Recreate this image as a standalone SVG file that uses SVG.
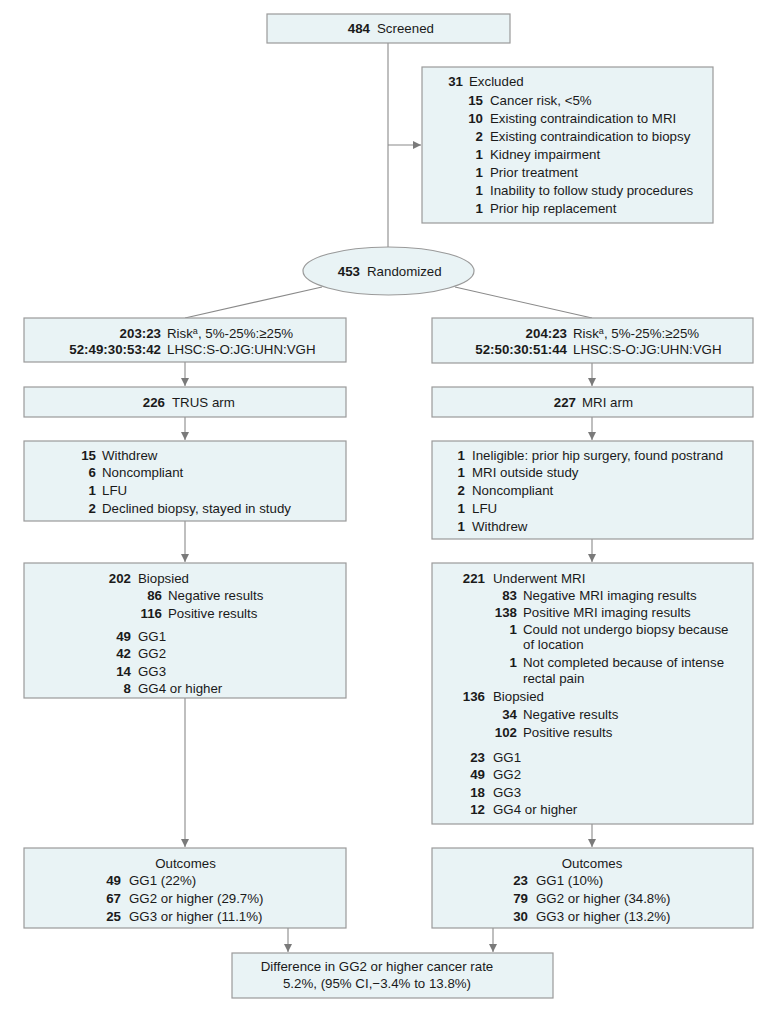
<svg xmlns="http://www.w3.org/2000/svg" width="780" height="1011" viewBox="0 0 780 1011">
<defs>
<style>
.box{fill:#e9f3f5;stroke:#9a9a9a;stroke-width:1.2}
.ln{fill:none;stroke:#8a8a8a;stroke-width:1.1}
text{font-family:"Liberation Sans",Arial,sans-serif;font-size:13.3px;fill:#1a1a1a}
.b{font-weight:bold}
.e{text-anchor:end}
.m{text-anchor:middle}
.sup{font-size:9px}
</style>
<marker id="ah" viewBox="0 0 10 10" refX="10" refY="5" markerWidth="8" markerHeight="8" markerUnits="userSpaceOnUse" orient="auto">
<path d="M0,0 L10,5 L0,10 z" fill="#7a7a7a"/>
</marker>
</defs>
<rect width="780" height="1011" fill="#ffffff"/>
<g id="connectors">
<line class="ln" x1="388" y1="43" x2="388" y2="247"/>
<line class="ln" x1="388" y1="145" x2="421" y2="145" marker-end="url(#ah)"/>
<line class="ln" x1="322" y1="287" x2="185" y2="318"/>
<line class="ln" x1="455" y1="287" x2="592" y2="318"/>
<line class="ln" x1="185" y1="362" x2="185" y2="386" marker-end="url(#ah)"/>
<line class="ln" x1="592" y1="363" x2="592" y2="386" marker-end="url(#ah)"/>
<line class="ln" x1="185" y1="417" x2="185" y2="440" marker-end="url(#ah)"/>
<line class="ln" x1="592" y1="417" x2="592" y2="440" marker-end="url(#ah)"/>
<line class="ln" x1="185" y1="521" x2="185" y2="562" marker-end="url(#ah)"/>
<line class="ln" x1="592" y1="539" x2="592" y2="562" marker-end="url(#ah)"/>
<line class="ln" x1="185" y1="698" x2="185" y2="847" marker-end="url(#ah)"/>
<line class="ln" x1="592" y1="824" x2="592" y2="847" marker-end="url(#ah)"/>
<line class="ln" x1="288" y1="928" x2="288" y2="952" marker-end="url(#ah)"/>
<line class="ln" x1="493" y1="928" x2="493" y2="952" marker-end="url(#ah)"/>
</g>
<g id="screened">
<rect class="box" x="267" y="14" width="243" height="29"/>
<text x="370" y="33" class="b e">484</text><text x="377" y="33">Screened</text>
</g>
<g id="excluded">
<rect class="box" x="422" y="67" width="291" height="156"/>
<text x="463" y="86" class="b e">31</text><text x="469" y="86">Excluded</text>
<text x="483" y="104.5" class="b e">15</text><text x="490" y="104.5">Cancer risk, &lt;5%</text>
<text x="483" y="123" class="b e">10</text><text x="490" y="123">Existing contraindication to MRI</text>
<text x="483" y="141" class="b e">2</text><text x="490" y="141">Existing contraindication to biopsy</text>
<text x="483" y="159" class="b e">1</text><text x="490" y="159">Kidney impairment</text>
<text x="483" y="176.5" class="b e">1</text><text x="490" y="176.5">Prior treatment</text>
<text x="483" y="194.5" class="b e">1</text><text x="490" y="194.5">Inability to follow study procedures</text>
<text x="483" y="212.5" class="b e">1</text><text x="490" y="212.5">Prior hip replacement</text>
</g>
<g id="randomized">
<ellipse class="box" cx="388.5" cy="271" rx="85.5" ry="24"/>
<text x="360" y="276" class="b e">453</text><text x="367" y="276">Randomized</text>
</g>
<g id="left-risk">
<rect class="box" x="24" y="318" width="322" height="44"/>
<text x="161" y="337.5" class="b e">203:23</text><text x="167" y="337.5">Risk<tspan class="sup" dy="-4">a</tspan><tspan dy="4">, 5%-25%:≥25%</tspan></text>
<text x="161" y="354" class="b e">52:49:30:53:42</text><text x="167" y="354">LHSC:S-O:JG:UHN:VGH</text>
</g>
<g id="right-risk">
<rect class="box" x="432" y="318" width="321" height="45"/>
<text x="567" y="337.5" class="b e">204:23</text><text x="573" y="337.5">Risk<tspan class="sup" dy="-4">a</tspan><tspan dy="4">, 5%-25%:≥25%</tspan></text>
<text x="567" y="354" class="b e">52:50:30:51:44</text><text x="573" y="354">LHSC:S-O:JG:UHN:VGH</text>
</g>
<g id="trus-arm">
<rect class="box" x="24" y="387" width="322" height="30"/>
<text x="165" y="407" class="b e">226</text><text x="172" y="407">TRUS arm</text>
</g>
<g id="mri-arm">
<rect class="box" x="432" y="387" width="321" height="30"/>
<text x="576" y="407" class="b e">227</text><text x="582" y="407">MRI arm</text>
</g>
<g id="left-withdrew">
<rect class="box" x="24" y="441" width="322" height="80"/>
<text x="96" y="459.5" class="b e">15</text><text x="102" y="459.5">Withdrew</text>
<text x="96" y="477" class="b e">6</text><text x="102" y="477">Noncompliant</text>
<text x="96" y="494.5" class="b e">1</text><text x="102" y="494.5">LFU</text>
<text x="96" y="512.5" class="b e">2</text><text x="102" y="512.5">Declined biopsy, stayed in study</text>
</g>
<g id="right-ineligible">
<rect class="box" x="432" y="441" width="321" height="98"/>
<text x="465" y="459.5" class="b e">1</text><text x="472" y="459.5">Ineligible: prior hip surgery, found postrand</text>
<text x="465" y="477" class="b e">1</text><text x="472" y="477">MRI outside study</text>
<text x="465" y="494.5" class="b e">2</text><text x="472" y="494.5">Noncompliant</text>
<text x="465" y="512.5" class="b e">1</text><text x="472" y="512.5">LFU</text>
<text x="465" y="530.5" class="b e">1</text><text x="472" y="530.5">Withdrew</text>
</g>
<g id="left-biopsied">
<rect class="box" x="24" y="563" width="322" height="135"/>
<text x="131" y="582.5" class="b e">202</text><text x="138" y="582.5">Biopsied</text>
<text x="162" y="599.5" class="b e">86</text><text x="168" y="599.5">Negative results</text>
<text x="162" y="617.5" class="b e">116</text><text x="168" y="617.5">Positive results</text>
<text x="131" y="640.5" class="b e">49</text><text x="138" y="640.5">GG1</text>
<text x="131" y="658" class="b e">42</text><text x="138" y="658">GG2</text>
<text x="131" y="675.5" class="b e">14</text><text x="138" y="675.5">GG3</text>
<text x="131" y="692.5" class="b e">8</text><text x="138" y="692.5">GG4 or higher</text>
</g>
<g id="right-mri">
<rect class="box" x="432" y="563" width="321" height="261"/>
<text x="485" y="582.5" class="b e">221</text><text x="493" y="582.5">Underwent MRI</text>
<text x="517" y="599.5" class="b e">83</text><text x="523" y="599.5">Negative MRI imaging results</text>
<text x="517" y="616.5" class="b e">138</text><text x="523" y="616.5">Positive MRI imaging results</text>
<text x="517" y="633.5" class="b e">1</text><text x="523" y="633.5">Could not undergo biopsy because</text>
<text x="523" y="649">of location</text>
<text x="517" y="666.5" class="b e">1</text><text x="523" y="666.5">Not completed because of intense</text>
<text x="523" y="682.5">rectal pain</text>
<text x="485" y="700.5" class="b e">136</text><text x="493" y="700.5">Biopsied</text>
<text x="517" y="718.5" class="b e">34</text><text x="523" y="718.5">Negative results</text>
<text x="517" y="736.5" class="b e">102</text><text x="523" y="736.5">Positive results</text>
<text x="485" y="761.5" class="b e">23</text><text x="493" y="761.5">GG1</text>
<text x="485" y="778.5" class="b e">49</text><text x="493" y="778.5">GG2</text>
<text x="485" y="796.5" class="b e">18</text><text x="493" y="796.5">GG3</text>
<text x="485" y="813.5" class="b e">12</text><text x="493" y="813.5">GG4 or higher</text>
</g>
<g id="left-outcomes">
<rect class="box" x="24" y="848" width="322" height="80"/>
<text x="185.5" y="867.5" class="m">Outcomes</text>
<text x="121" y="884.5" class="b e">49</text><text x="129" y="884.5">GG1 (22%)</text>
<text x="121" y="902.5" class="b e">67</text><text x="129" y="902.5">GG2 or higher (29.7%)</text>
<text x="121" y="920.5" class="b e">25</text><text x="129" y="920.5">GG3 or higher (11.1%)</text>
</g>
<g id="right-outcomes">
<rect class="box" x="432" y="848" width="321" height="80"/>
<text x="592" y="867.5" class="m">Outcomes</text>
<text x="528" y="884.5" class="b e">23</text><text x="536" y="884.5">GG1 (10%)</text>
<text x="528" y="902.5" class="b e">79</text><text x="536" y="902.5">GG2 or higher (34.8%)</text>
<text x="528" y="920.5" class="b e">30</text><text x="536" y="920.5">GG3 or higher (13.2%)</text>
</g>
<g id="difference">
<rect class="box" x="232" y="953" width="321" height="45"/>
<text x="377" y="971" class="m">Difference in GG2 or higher cancer rate</text>
<text x="377" y="987.5" class="m">5.2%, (95% CI,−3.4% to 13.8%)</text>
</g>
</svg>
